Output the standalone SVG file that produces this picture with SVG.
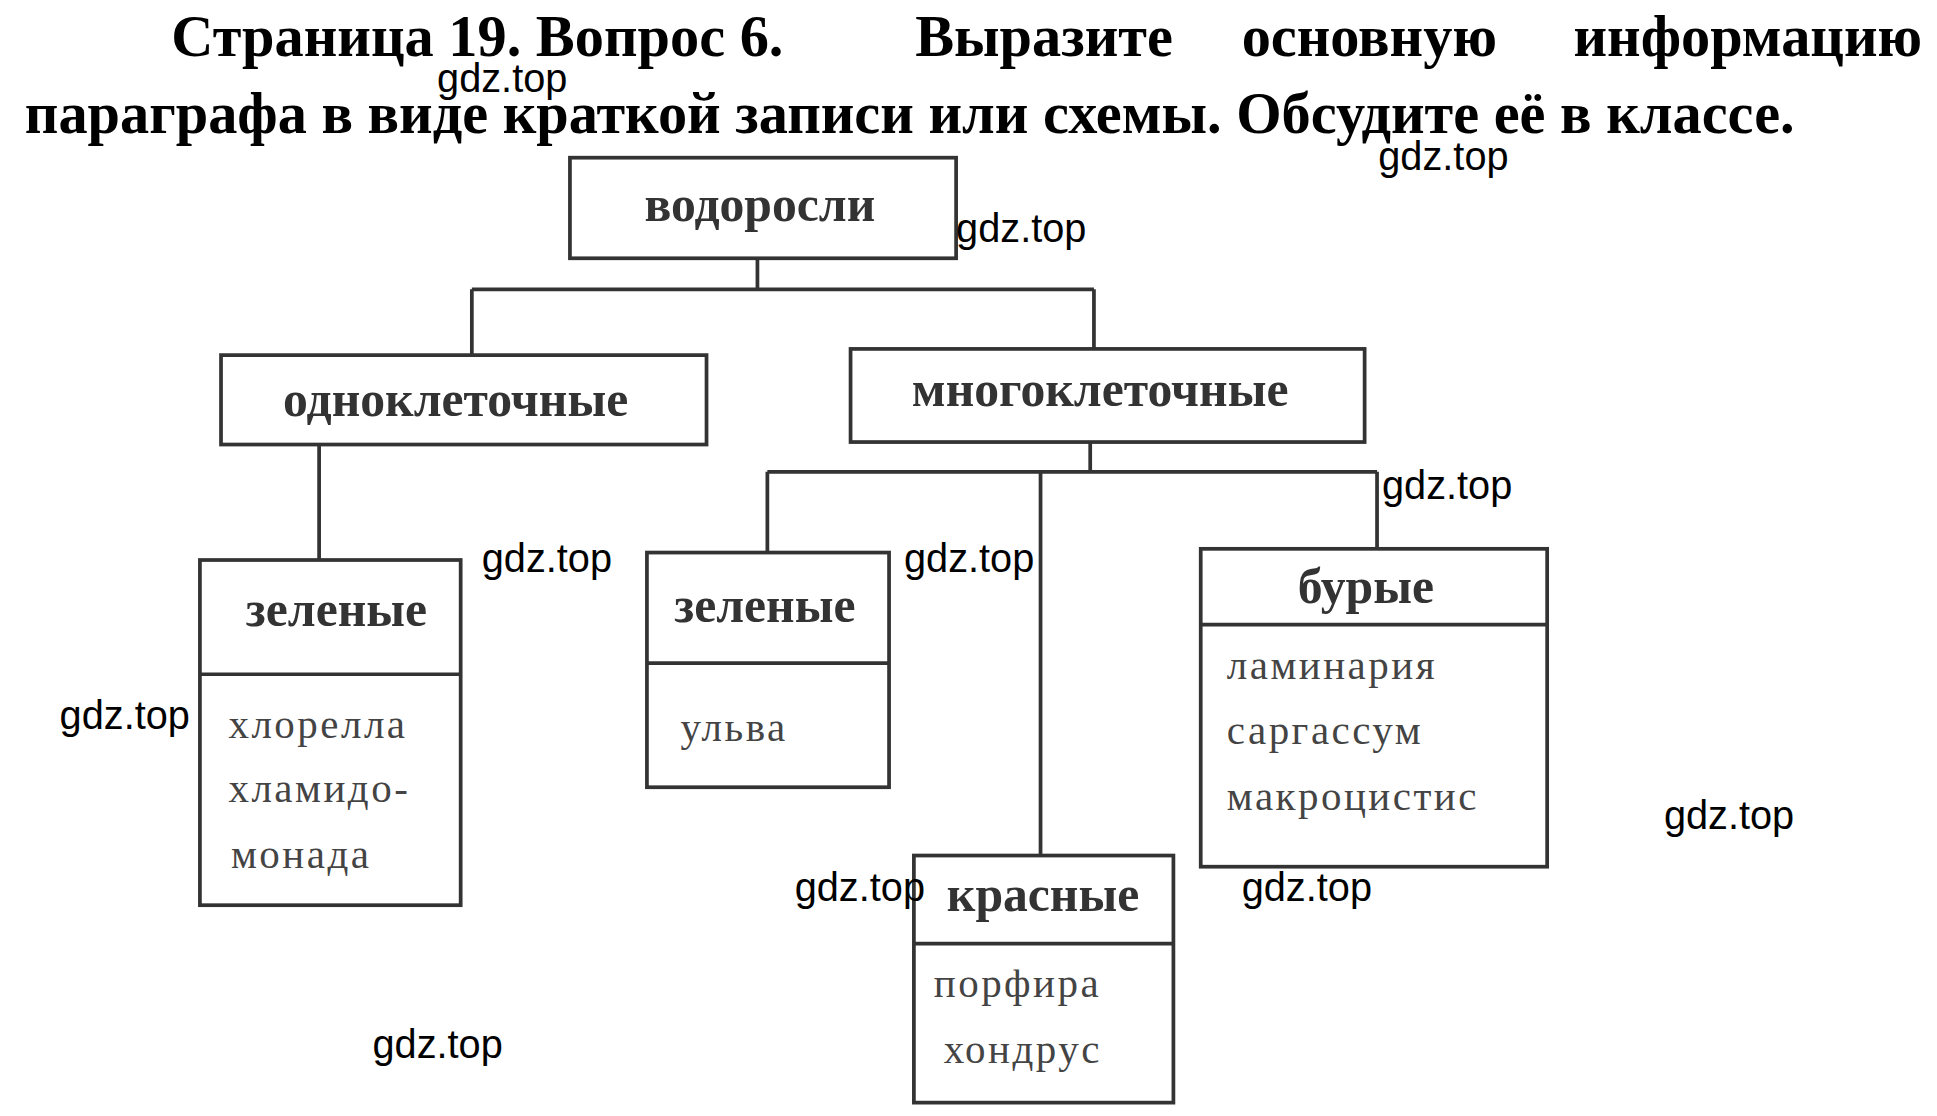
<svg xmlns="http://www.w3.org/2000/svg" width="1937" height="1116" viewBox="0 0 1937 1116">
<style>
.t{font-family:"Liberation Serif",serif;font-weight:bold;font-size:47px;fill:#000}
.b{fill:#fff;stroke:#333;stroke-width:3}
.h{font-family:"Liberation Serif",serif;font-weight:bold;font-size:40px;fill:#333;text-anchor:middle}
.i{font-family:"Liberation Serif",serif;font-size:33px;fill:#444;letter-spacing:2px}
.w{font-family:"Liberation Sans",sans-serif;font-size:32px;fill:#000}
.c{fill:none;stroke:#333;stroke-width:3}
</style>
<rect width="1937" height="1116" fill="#fff"/>
<g transform="scale(1.2417)">
<text class="t" x="138" y="45">Страница 19. Вопрос 6.</text>
<text class="t" x="737" y="45">Выразите</text>
<text class="t" x="1000" y="45">основную</text>
<text class="t" x="1548" y="45" text-anchor="end">информацию</text>
<text class="t" x="20" y="107">параграфа в виде краткой записи или схемы. Обсудите её в классе.</text>
<g id="connectors">
<path class="c" d="M610 208V233M380 233H881M380 233V286M881 233V281M257 358V451M878 356V380M618 380H1109M618 380V445M1109 380V442M838 380V689"/>
</g>
<g id="n-root"><rect class="b" x="459" y="127" width="311" height="81"/><text class="h" x="612" y="178">водоросли</text></g>
<g id="n-uni"><rect class="b" x="178" y="286" width="391" height="72"/><text class="h" x="367" y="335">одноклеточные</text></g>
<g id="n-multi"><rect class="b" x="685" y="281" width="414" height="75"/><text class="h" x="886" y="327">многоклеточные</text></g>
<g id="n-green1"><rect class="b" x="161" y="451" width="210" height="278"/><path class="c" d="M161 543H371"/><text class="h" x="271" y="504">зеленые</text>
<text class="i" x="184" y="594">хлорелла</text><text class="i" x="184" y="646">хламидо-</text><text class="i" x="186" y="699">монада</text></g>
<g id="n-green2"><rect class="b" x="521" y="445" width="195" height="189"/><path class="c" d="M521 534H716"/><text class="h" x="616" y="501">зеленые</text>
<text class="i" x="548" y="597">ульва</text></g>
<g id="n-brown"><rect class="b" x="967" y="442" width="279" height="256"/><path class="c" d="M967 503H1246"/><text class="h" x="1100" y="486">бурые</text>
<text class="i" x="988" y="547">ламинария</text><text class="i" x="988" y="599">саргассум</text><text class="i" x="988" y="652">макроцистис</text></g>
<g id="n-red"><rect class="b" x="736" y="689" width="209" height="199"/><path class="c" d="M736 760H945"/><text class="h" x="840" y="734">красные</text>
<text class="i" x="752" y="803">порфира</text><text class="i" x="760" y="856">хондрус</text></g>
<text class="w" x="352" y="74">gdz.top</text>
<text class="w" x="1110" y="137">gdz.top</text>
<text class="w" x="770" y="195">gdz.top</text>
<text class="w" x="1113" y="402">gdz.top</text>
<text class="w" x="388" y="461">gdz.top</text>
<text class="w" x="728" y="461">gdz.top</text>
<text class="w" x="48" y="587">gdz.top</text>
<text class="w" x="1340" y="668">gdz.top</text>
<text class="w" x="640" y="726">gdz.top</text>
<text class="w" x="1000" y="726">gdz.top</text>
<text class="w" x="300" y="852">gdz.top</text>
</g>
</svg>
